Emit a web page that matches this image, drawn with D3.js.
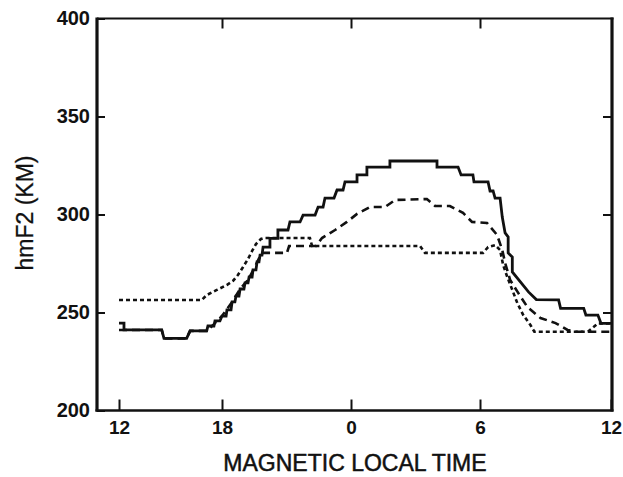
<!DOCTYPE html>
<html>
<head>
<meta charset="utf-8">
<script src="https://cdn.jsdelivr.net/npm/d3@7"></script>
<style>
  html, body { margin: 0; padding: 0; background: #fff; }
  svg { display: block; }
  text { font-family: "Liberation Sans", Arial, Helvetica, sans-serif; fill: #111; }
</style>
</head>
<body>
<svg id="chart" width="623" height="477"></svg>
<script>
// ---- data (hours run 12 -> 36, i.e. 12 MLT through midnight to 12 MLT) ----
const xTickValues = [12, 18, 24, 30, 36];
const xTickLabels = ["12", "18", "0", "6", "12"];
const yTickValues = [200, 250, 300, 350, 400];

const solidSeries = [
  [12.00,244.6],[12.29,244.6],[12.29,241.1],[14.49,241.1],[14.62,236.8],[15.94,236.8],
  [16.14,240.6],[17.11,240.6],[17.18,243.1],[17.53,243.1],[17.59,245.7],[17.88,245.7],
  [18.00,248.2],[18.19,248.2],[18.23,251.3],[18.42,251.3],[18.47,255.4],[18.60,255.4],
  [18.65,258.4],[18.79,258.4],[18.84,262.0],[19.02,262.0],[19.07,265.1],[19.21,265.1],
  [19.26,268.1],[19.40,268.1],[19.44,271.7],[19.58,271.7],[19.63,275.8],[19.72,275.8],
  [19.77,279.3],[19.86,279.3],[19.91,283.4],[20.23,283.4],[20.23,287.8],[20.60,287.8],
  [20.60,292.1],[21.07,292.1],[21.16,296.2],[21.63,296.2],[21.77,299.7],[22.33,299.7],
  [22.47,303.8],[22.70,303.8],[22.79,308.4],[23.21,308.4],[23.35,312.5],[23.63,312.5],
  [23.72,316.6],[24.28,316.6],[24.28,320.2],[24.74,320.2],[24.74,324.2],[25.81,324.2],
  [25.81,327.3],[28.00,327.3],[28.00,324.2],[28.98,324.2],[29.12,320.2],[29.67,320.2],
  [29.72,316.6],[30.37,316.6],[30.46,312.0],[30.60,312.0],[30.69,308.4],[30.92,308.4],
  [31.02,298.7],[31.15,290.6],[31.29,288.5],[31.29,280.4],[31.48,278.3],[31.48,270.7],
  [31.85,265.6],[32.22,260.5],[32.58,256.6],[33.60,256.4],[33.69,252.1],[34.75,252.1],
  [34.85,248.7],[35.40,248.7],[35.54,244.5],[36.00,244.5]
];

const dashedSeries = [
  [12.00,241.1],[14.49,241.1],[14.62,236.8],[15.94,236.8],[16.14,240.6],[17.11,240.6],
  [17.48,243.6],[18.00,248.2],[18.47,255.4],[18.84,262.0],[19.21,266.6],[19.53,273.2],
  [19.77,278.8],[19.91,280.4],[21.02,280.4],[21.12,283.9],[22.37,283.9],[22.65,288.0],
  [23.26,292.1],[23.81,296.2],[24.28,300.3],[24.88,303.8],[25.58,303.8],[26.05,307.4],
  [27.53,307.9],[27.91,304.3],[28.60,304.3],[29.21,300.8],[29.63,296.2],[30.32,295.7],
  [30.78,289.6],[31.02,281.9],[31.15,275.3],[31.38,266.6],[31.75,260.0],[32.17,252.8],
  [32.77,247.2],[33.46,244.6],[34.01,241.1],[34.38,240.2],[36.00,240.2]
];

const dottedSeries = [
  [12.00,256.4],[16.82,256.4],[17.11,258.9],[17.70,261.5],[18.22,264.0],[18.51,266.1],
  [18.74,269.1],[18.98,273.2],[19.21,277.3],[19.40,281.4],[19.58,284.9],[19.81,287.5],
  [19.95,288.0],[22.09,288.0],[22.19,283.9],[27.21,283.9],[27.44,280.4],[30.14,280.4],
  [30.37,283.4],[30.69,284.4],[30.92,281.9],[31.06,274.2],[31.25,268.1],[31.48,261.5],
  [31.71,254.8],[31.98,248.7],[32.31,243.6],[32.49,240.2],[34.94,240.2],[35.40,244.4],
  [36.00,244.4]
];

// ---- layout ----
const svg = d3.select("#chart");
const pLeft = 97, pRight = 612, pTop = 18.5, pBottom = 410.5;

// the printed hour axis is not perfectly uniform; follow the tick positions
const x = d3.scaleLinear().domain(xTickValues).range([119, 222, 351, 480, 611]);
const y = d3.scaleLinear().domain([200, 400]).range([pBottom, pTop]);

// ---- series ----
const line = d3.line().x(d => x(d[0])).y(d => y(d[1])).curve(d3.curveLinear);

svg.append("path").datum(dashedSeries).attr("d", line)
  .attr("fill", "none").attr("stroke", "#111").attr("stroke-width", 2.6)
  .attr("stroke-dasharray", "8,5");
svg.append("path").datum(dottedSeries).attr("d", line)
  .attr("fill", "none").attr("stroke", "#111").attr("stroke-width", 2.6)
  .attr("stroke-dasharray", "4,3");
svg.append("path").datum(solidSeries).attr("d", line)
  .attr("fill", "none").attr("stroke", "#111").attr("stroke-width", 2.8)
  .attr("stroke-linejoin", "miter");

// ---- axes ----
const bottomAxis = d3.axisBottom(x).tickValues(xTickValues)
  .tickFormat((d, i) => xTickLabels[i]).tickSize(-11).tickPadding(10);
const gB = svg.append("g").attr("transform", `translate(0,${pBottom})`).call(bottomAxis);
gB.select(".domain").remove();
gB.selectAll("line").attr("stroke", "#111").attr("stroke-width", 2);
gB.selectAll("text").attr("font-size", 19).attr("font-weight", "bold").attr("fill", "#111");

const topAxis = d3.axisTop(x).tickValues([18, 24, 30]).tickFormat("").tickSize(-10);
const gT = svg.append("g").attr("transform", `translate(0,${pTop})`).call(topAxis);
gT.select(".domain").remove();
gT.selectAll("line").attr("stroke", "#111").attr("stroke-width", 2);

const leftAxis = d3.axisLeft(y).tickValues(yTickValues).tickFormat(d3.format("d"))
  .tickSize(-8).tickPadding(7);
const gL = svg.append("g").attr("transform", `translate(${pLeft},0)`).call(leftAxis);
gL.select(".domain").remove();
gL.selectAll("line").attr("stroke", "#111").attr("stroke-width", 2);
gL.selectAll("text").attr("font-size", 20).attr("font-weight", "bold").attr("fill", "#111");

const rightAxis = d3.axisRight(y).tickValues([250, 300, 350]).tickFormat("").tickSize(-9);
const gR = svg.append("g").attr("transform", `translate(${pRight},0)`).call(rightAxis);
gR.select(".domain").remove();
gR.selectAll("line").attr("stroke", "#111").attr("stroke-width", 2);

// frame
svg.append("line").attr("x1", pLeft).attr("x2", pRight + 1.5).attr("y1", pTop).attr("y2", pTop)
  .attr("stroke", "#111").attr("stroke-width", 2.2);
svg.append("line").attr("x1", pLeft - 1.5).attr("x2", pRight + 1.5).attr("y1", pBottom).attr("y2", pBottom)
  .attr("stroke", "#111").attr("stroke-width", 2.4);
svg.append("line").attr("x1", pLeft).attr("x2", pLeft).attr("y1", pTop - 1).attr("y2", pBottom + 1)
  .attr("stroke", "#111").attr("stroke-width", 3.2);
svg.append("line").attr("x1", pRight).attr("x2", pRight).attr("y1", pTop - 1).attr("y2", pBottom + 1)
  .attr("stroke", "#111").attr("stroke-width", 3.2);

// titles
svg.append("text").attr("x", 355).attr("y", 471).attr("text-anchor", "middle")
  .attr("font-size", 23).attr("stroke", "#111").attr("stroke-width", 0.5)
  .text("MAGNETIC LOCAL TIME");
svg.append("text").attr("transform", "translate(33,213) rotate(-90)")
  .attr("text-anchor", "middle").attr("font-size", 23).attr("stroke", "#111").attr("stroke-width", 0.3)
  .text("hmF2 (KM)");
</script>
</body>
</html>
